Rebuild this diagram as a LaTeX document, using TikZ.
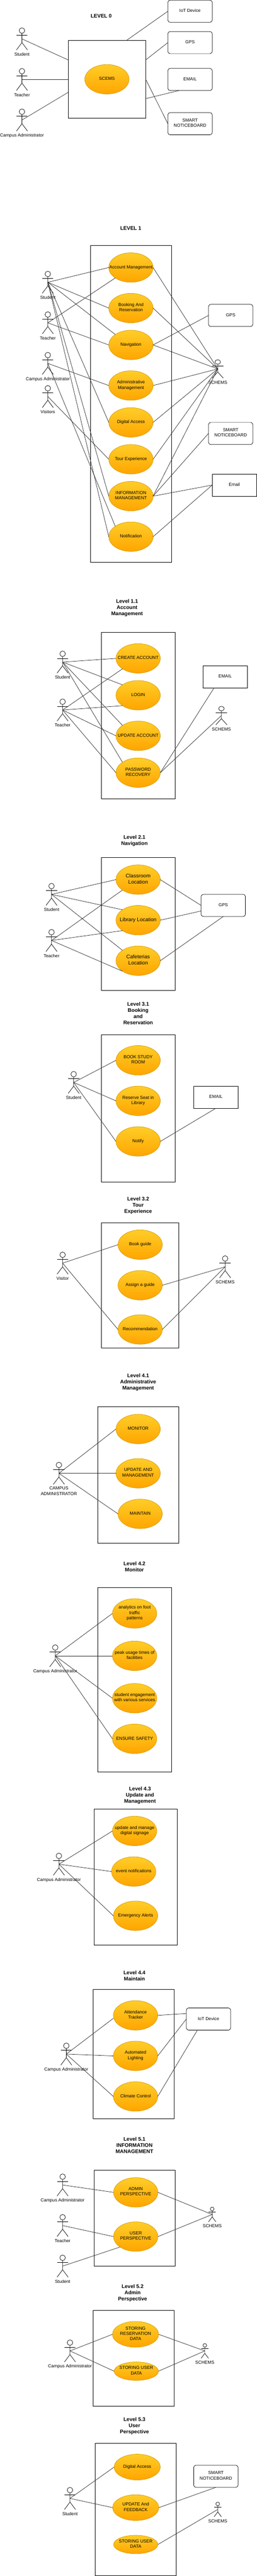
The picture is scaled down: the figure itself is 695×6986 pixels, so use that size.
\documentclass[tikz,border=0pt]{standalone}
\usepackage{fontspec}
\setmainfont{Liberation Sans}
\usetikzlibrary{shapes.geometric}
\definecolor{ucTop}{HTML}{FFCD28}
\definecolor{ucBot}{HTML}{FFA500}
\definecolor{ucEdge}{HTML}{D79B00}
\newcommand{\sztw}{\fontsize{12}{14.4}\selectfont}
\newcommand{\szft}{\fontsize{14}{16.8}\selectfont}
\tikzset{
  every node/.style={outer sep=0pt,inner sep=0pt},
  txtbase/.style={align=center,execute at begin node=\strut,execute at end node=\strut},
  ttl/.style={txtbase,font=\szft\bfseries},
  lbl/.style={txtbase,font=\sztw},
  lblbig/.style={txtbase,font=\szft},
  ucase/.style={ellipse,draw=ucEdge,top color=ucTop,bottom color=ucBot,line width=1pt,minimum width=120pt,minimum height=80pt},
  sysbox/.style={rectangle,draw=black,line width=1pt},
  extbox/.style={rectangle,draw=black,line width=1pt,minimum width=120pt,minimum height=60pt,txtbase,font=\sztw},
  extround/.style={extbox,rounded corners=6pt},
  actorhead/.style={ellipse,draw=black,line width=1pt},
  actorline/.style={draw=black,line width=1pt},
  cn/.style={draw=black!85,line width=1pt},
}
% [label offset]{name}{cx}{top}{w}{h}{label}
\newcommand{\actorfig}[7][13]{%
  \node[actorhead,minimum width={#5/2*1pt},minimum height={#6/4*1pt}] (#2head) at (#3,#4+#6/8) {};
  \draw[actorline] (#2head.south) -- (#3,#4+#6*2/3) -- (#3-#5/2,#4+#6);
  \draw[actorline] (#3,#4+#6*2/3) -- (#3+#5/2,#4+#6);
  \draw[actorline] (#3-#5/2,#4+#6/3) -- (#3+#5/2,#4+#6/3);
  \coordinate (#2) at (#3,#4+#6/2);
  \node[lbl] (#2lbl) at (#3,#4+#6+#1) {#7};
}
\newcommand{\uc}[5][]{%
  \node[ucase,#1] (#2) at (#3,#4) {};
  \node[lbl] (#2txt) at (#3,#4) {#5};
}
\newcommand{\ucbig}[4]{%
  \node[ucase] (#1) at (#2,#3) {};
  \node[lblbig] (#1txt) at (#2,#3) {#4};
}
\newcommand{\bx}[5]{%
  \node[sysbox,minimum width={(#4-#2)*1pt},minimum height={(#5-#3)*1pt}] (#1) at ({(#2+#4)/2},{(#3+#5)/2}) {};
}
\begin{document}
\begin{tikzpicture}[x=1pt,y=-1pt]
\fill[white] (0,0) rectangle (695,6986);
\useasboundingbox (0,0) rectangle (695,6986);

% ---------- LEVEL 0
\node[ttl] (t0) at (274,45) {LEVEL 0};
\bx{b0}{184.5}{110}{394.5}{320}
\uc{z0}{289.5}{215}{SCEMS}
\actorfig{a0s}{59.5}{75.5}{30}{60}{Student}
\actorfig{a0t}{59.5}{185.5}{30}{60}{Teacher}
\actorfig{a0c}{59.5}{295.5}{30}{60}{Campus Administrator}
\node[extround] (r0i) at (514.5,30.5) {IoT Device};
\node[extround] (r0g) at (514.5,115.5) {GPS};
\node[extround] (r0e) at (514.5,215.5) {EMAIL};
\node[extround] (r0n) at (514.5,335.5) {SMART\\NOTICEBOARD};
\coordinate (p0a) at (184.5,162.5);
\coordinate (p0b) at (184.5,215.5);
\coordinate (p0c) at (184.5,250.5);
\coordinate (p0d) at (342,110);
\coordinate (p0e) at (394.5,162.5);
\coordinate (p0f) at (394.5,267.5);
\coordinate (p0g) at (394.5,215);
\coordinate (p0h) at (485,245.5);
\draw[cn] (a0s) -- (p0a);
\draw[cn] (a0t) -- (p0b);
\draw[cn] (a0c) -- (p0c);
\draw[cn] (r0i.west) -- (p0d);
\draw[cn] (r0g.west) -- (p0e);
\draw[cn] (p0h) -- (p0f);
\draw[cn] (r0n.west) -- (p0g);

% ---------- LEVEL 1
\node[ttl] (t1) at (354,620.5) {LEVEL 1};
\bx{b1}{244.5}{665.5}{464.5}{1525.5}
\uc{e1a}{354.5}{725.5}{Account Management}
\uc{e1b}{354.5}{835.5}{Booking And\\Reservation}
\uc{e1c}{354.5}{935.5}{Navigation}
\uc{e1d}{354.5}{1045.5}{Administrative\\Management}
\uc{e1e}{354.5}{1145.5}{Digital Access}
\uc{e1f}{354.5}{1245.5}{Tour Experience}
\uc{e1g}{354.5}{1345.5}{INFORMATION\\MANAGEMENT}
\uc{e1h}{354.5}{1455.5}{Notification}
\actorfig{a1s}{129.5}{735.5}{30}{60}{Student}
\actorfig{a1t}{129.5}{845.5}{30}{60}{Teacher}
\actorfig{a1c}{129.5}{955.5}{30}{60}{Campus Administrator}
\actorfig{a1v}{129.5}{1045.5}{30}{60}{Visitors}
\actorfig{a1x}{589.5}{975.5}{30}{50}{SCHEMS}
\node[extround] (r1g) at (624.5,855.5) {GPS};
\node[extround] (r1n) at (624.5,1175.5) {SMART\\NOTICEBOARD};
\node[extbox] (r1e) at (634.5,1315.5) {Email};
\draw[cn] (a1s) -- (e1a.west);
\draw[cn] (a1s) -- (e1b.west);
\draw[cn] (a1s) -- (e1c.north west);
\draw[cn] (a1s) -- (e1e.west);
\draw[cn] (a1s) -- (e1g.west);
\draw[cn] (a1s) -- (e1h.west);
\draw[cn] (a1t) -- (e1a.south west);
\draw[cn] (a1t) -- (e1c.west);
\draw[cn] (a1c) -- (e1d.west);
\draw[cn] (a1c) -- (e1h.north west);
\draw[cn] (a1v) -- (e1f.west);
\draw[cn] (e1a.east) -- (a1x);
\draw[cn] (e1b.east) -- (a1x);
\draw[cn] (e1c.east) -- (a1x);
\draw[cn] (e1d.east) -- (a1x);
\draw[cn] (e1e.east) -- (a1x);
\draw[cn] (e1f.east) -- (a1x);
\draw[cn] (e1g.east) -- (a1x);
\draw[cn] (e1c.east) -- (r1g.west);
\draw[cn] (e1g.east) -- (r1n.west);
\draw[cn] (e1g.east) -- (r1e.west);
\draw[cn] (e1h.east) -- (r1e.west);

% ---------- LEVEL 1.1
\node[ttl] (t11) at (344,1650) {Level 1.1\\Account\\Management};
\bx{b11}{274.5}{1715.5}{474.5}{2165.5}
\uc{e11a}{374}{1785.5}{CREATE ACCOUNT}
\uc{e11b}{374}{1885.5}{LOGIN}
\uc{e11c}{374}{1995.5}{UPDATE ACCOUNT}
\uc{e11d}{374}{2095.5}{PASSWORD\\RECOVERY}
\actorfig{a11s}{169.5}{1765.5}{30}{60}{Student}
\actorfig{a11t}{169.5}{1895.5}{30}{60}{Teacher}
\actorfig{a11x}{599.5}{1915.5}{30}{50}{SCHEMS}
\node[extbox] (r11e) at (609.5,1835.5) {EMAIL};
\coordinate (p11a) at (579.5,1865.5);
\draw[cn] (a11s) -- (e11a.west);
\draw[cn] (a11s) -- (e11b.north west);
\draw[cn] (a11s) -- (e11c.north west);
\draw[cn] (a11s) -- (e11d.north west);
\draw[cn] (a11t) -- (e11a.south west);
\draw[cn] (a11t) -- (e11b.south west);
\draw[cn] (a11t) -- (e11c.west);
\draw[cn] (a11t) -- (e11d.west);
\draw[cn] (e11d.east) -- (p11a);
\draw[cn] (e11d.east) -- (a11x);

% ---------- LEVEL 2.1
\node[ttl] (t21) at (364,2281) {Level 2.1\\Navigation};
\bx{b21}{274.5}{2325.5}{474.5}{2685.5}
\ucbig{e21a}{374}{2385.5}{Classroom\\Location}
\ucbig{e21b}{374}{2495.5}{Library Location}
\ucbig{e21c}{374}{2605.5}{Cafeterias\\Location}
\actorfig{a21s}{139.5}{2395.5}{30}{60}{Student}
\actorfig{a21t}{139.5}{2520.5}{30}{60}{Teacher}
\node[extround] (r21g) at (604.5,2455.5) {GPS};
\coordinate (p21a) at (544.5,2470.5);
\draw[cn] (a21s) -- (e21a.west);
\draw[cn] (a21s) -- (e21b.north west);
\draw[cn] (a21s) -- (e21c.north west);
\draw[cn] (a21t) -- (e21a.south west);
\draw[cn] (a21t) -- (e21b.south west);
\draw[cn] (a21t) -- (e21c.south west);
\draw[cn] (e21a.east) -- (r21g.west);
\draw[cn] (e21b.east) -- (p21a);
\draw[cn] (e21c.east) -- (r21g.south);

% ---------- LEVEL 3.1
\node[ttl] (t31) at (374,2750) {Level 3.1\\Booking\\and\\Reservation};
\bx{b31}{274.5}{2805.5}{474.5}{3205.5}
\uc{e31a}{374}{2875.5}{BOOK STUDY\\ROOM}
\uc{e31b}{374}{2985.5}{Reserve Seat in\\Library}
\uc{e31c}{374}{3095.5}{Notify}
\actorfig{a31s}{199.5}{2905.5}{30}{60}{Student}
\node[extbox] (r31e) at (584.5,2975.5) {EMAIL};
\draw[cn] (a31s) -- (e31a.west);
\draw[cn] (a31s) -- (e31b.west);
\draw[cn] (a31s) -- (e31c.west);
\draw[cn] (e31c.east) -- (r31e.south);

% ---------- LEVEL 3.2
\node[ttl] (t32) at (374,3270) {Level 3.2\\Tour\\Experience};
\bx{b32}{274.5}{3315.5}{484.5}{3655.5}
\uc{e32a}{379.5}{3375.5}{Book guide}
\uc{e32b}{379.5}{3485.5}{Assign a guide}
\uc{e32c}{379.5}{3605.5}{Recommendation}
\actorfig{a32v}{169.5}{3395.5}{30}{60}{Visitor}
\actorfig{a32x}{609.5}{3405.5}{30}{60}{SCHEMS}
\draw[cn] (a32v) -- (e32a.west);
\draw[cn] (a32v) -- (e32c.west);
\draw[cn] (e32b.east) -- (a32x);
\draw[cn] (e32c.east) -- (a32x);

% ---------- LEVEL 4.1
\node[ttl] (t41) at (374,3750) {Level 4.1\\Administrative~\\Management};
\bx{b41}{264.5}{3815.5}{484.5}{4185.5}
\uc{e41a}{374}{3875.5}{MONITOR}
\uc{e41b}{374}{3995.5}{UPDATE AND\\MANAGEMENT}
\uc{e41c}{379.5}{4105.5}{MAINTAIN}
\actorfig[20]{a41c}{159.5}{3965.5}{30}{60}{CAMPUS\\ADMINISTRATOR}
\draw[cn] (a41c) -- (e41a.west);
\draw[cn] (a41c) -- (e41b.west);
\draw[cn] (a41c) -- (e41c.west);

% ---------- LEVEL 4.2
\node[ttl] (t42) at (364,4251) {Level 4.2\\Monitor};
\bx{b42}{264.5}{4305.5}{464.5}{4805.5}
\uc{e42a}{364.5}{4375.5}{analytics on foot\\traffic\\patterns}
\uc{e42b}{364.5}{4490.5}{peak usage times of\\facilities}
\uc{e42c}{364.5}{4605.5}{student engagement\\with various services}
\uc{e42d}{364.5}{4715.5}{ENSURE SAFETY}
\actorfig{a42c}{149.5}{4460.5}{30}{60}{Campus Administrator}
\draw[cn] (a42c) -- (e42a.west);
\draw[cn] (a42c) -- (e42b.west);
\draw[cn] (a42c) -- (e42c.west);
\draw[cn] (a42c) -- (e42d.west);

% ---------- LEVEL 4.3
\node[ttl] (t43) at (379,4870) {Level 4.3\\Update and\\Management};
\bx{b43}{254.5}{4905.5}{479.5}{5275.5}
\uc{e43a}{364.5}{4965.5}{update and manage\\digital signage}
\uc{e43b}{362}{5075.5}{event notifications}
\uc{e43c}{367}{5195.5}{Emergency Alerts}
\actorfig{a43c}{159.5}{5025.5}{30}{60}{Campus Administrator}
\draw[cn] (a43c) -- (e43a.west);
\draw[cn] (a43c) -- (e43b.west);
\draw[cn] (a43c) -- (e43c.west);

% ---------- LEVEL 4.4
\node[ttl] (t44) at (364,5360.5) {Level 4.4\\Maintain};
\bx{b44}{252}{5395.5}{472}{5745.5}
\uc{e44a}{367}{5465.5}{Attendance\\Tracker}
\uc{e44b}{367}{5575.5}{Automated\\Lighting}
\uc{e44c}{367}{5685.5}{Climate Control}
\actorfig{a44c}{179.5}{5540.5}{30}{60}{Campus Administrator}
\node[extround] (r44i) at (564.5,5475.5) {IoT Device};
\coordinate (p44a) at (307,5473.5);
\coordinate (p44b) at (504.5,5460.5);
\coordinate (p44c) at (534.5,5505.5);
\draw[cn] (a44c) -- (p44a);
\draw[cn] (a44c) -- (e44b.west);
\draw[cn] (a44c) -- (e44c.west);
\draw[cn] (e44a.east) -- (p44b);
\draw[cn] (e44b.east) -- (r44i.west);
\draw[cn] (e44c.east) -- (p44c);

% ---------- LEVEL 5.1
\node[ttl] (t51) at (364,5820.5) {Level 5.1\\INFORMATION~\\MANAGEMENT};
\bx{b51}{254.5}{5885.5}{474.5}{6145.5}
\uc{e51a}{367.5}{5945.5}{ADMIN\\PERSPECTIVE}
\uc{e51b}{367.5}{6065.5}{USER\\PERSPECTIVE}
\actorfig{a51c}{169.5}{5895.5}{30}{60}{Campus Administrator}
\actorfig{a51t}{169.5}{6005.5}{30}{60}{Teacher}
\actorfig{a51s}{169.5}{6115.5}{30}{60}{Student}
\actorfig{a51x}{574.5}{5985.5}{20}{40}{SCHEMS}
\draw[cn] (a51c) -- (e51a.west);
\draw[cn] (a51t) -- (e51b.west);
\draw[cn] (a51s) -- (e51b.south west);
\draw[cn] (e51a.east) -- (a51x);
\draw[cn] (e51b.east) -- (a51x);

% ---------- LEVEL 5.2
\node[ttl] (t52) at (359,6220) {Level 5.2\\Admin\\Perspective};
\bx{b52}{252}{6265.5}{472}{6525.5}
\uc[minimum width=125pt,minimum height=70pt]{e52a}{367}{6330.5}{STORING\\RESERVATION\\DATA}
\uc[minimum height=50pt]{e52b}{369}{6430.5}{STORING USER\\DATA}
\actorfig{a52c}{189.5}{6345.5}{30}{60}{Campus Administrator}
\actorfig{a52x}{554.5}{6355.5}{20}{40}{SCHEMS}
\draw[cn] (a52c) -- (e52a.west);
\draw[cn] (a52c) -- (e52b.west);
\draw[cn] (e52a.east) -- (a52x);
\draw[cn] (e52b.east) -- (a52x);

% ---------- LEVEL 5.3
\node[ttl] (t53) at (364,6580) {Level 5.3\\User\\Perspective};
\bx{b53}{257}{6625.5}{477}{6985.5}
\uc[minimum width=125pt,minimum height=70pt]{e53a}{371.5}{6690.5}{Digital Access}
\uc[minimum width=125pt,minimum height=70pt]{e53b}{367.5}{6800.5}{UPDATE And\\FEEDBACK}
\uc[minimum height=50pt]{e53c}{367.5}{6900.5}{STORING USER\\DATA}
\actorfig{a53s}{189.5}{6745.5}{30}{60}{Student}
\actorfig{a53x}{589.5}{6785.5}{20}{40}{SCHEMS}
\node[extround] (r53n) at (584.5,6715.5) {SMART\\NOTICEBOARD};
\draw[cn] (a53s) -- (e53a.west);
\draw[cn] (a53s) -- (e53b.west);
\draw[cn] (e53b.east) -- (r53n.south);
\draw[cn] (e53c.east) -- (a53x);
\end{tikzpicture}
\end{document}
